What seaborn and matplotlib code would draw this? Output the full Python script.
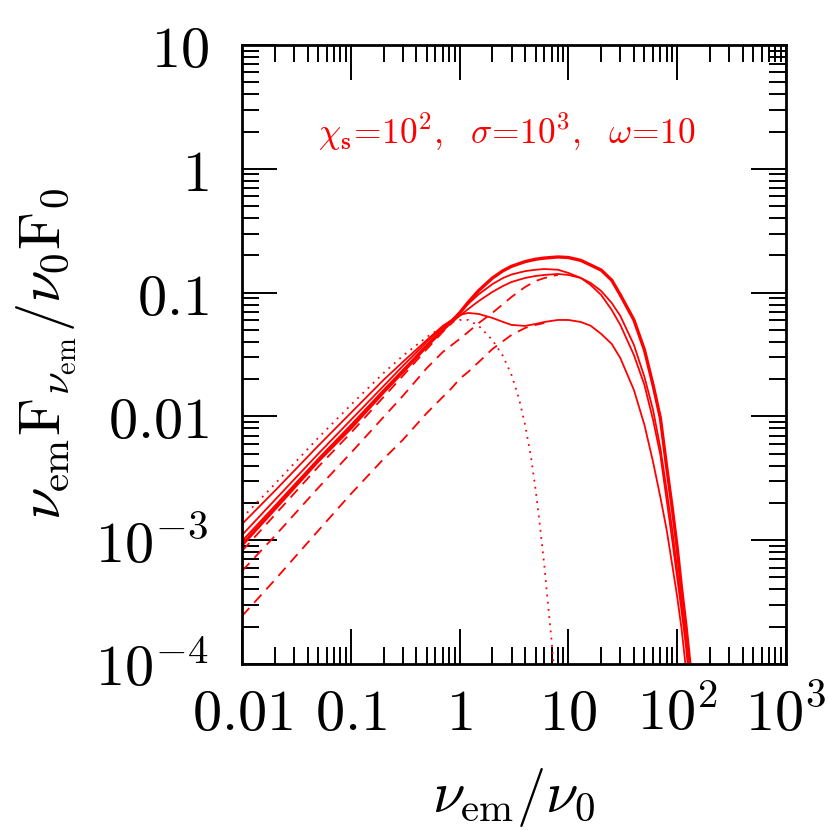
import numpy as np
import pandas as pd
import matplotlib
matplotlib.use('Agg')
import matplotlib.pyplot as plt
import seaborn as sns
from matplotlib.ticker import LogLocator, NullFormatter

# values
x_solid = [0.01, 0.02, 0.05, 0.1, 0.2, 0.3, 0.5, 0.7, 0.85, 1.0, 1.2, 1.5, 2, 2.5, 3, 4, 5, 6, 8,
           10, 13, 16, 20, 25, 30, 40, 50, 60, 70, 80, 90, 100, 110, 120, 130, 140]
solid_thick = [9.15e-4, 1.79e-3, 4.36e-3, 8.06e-3, 0.01575, 0.02285, 0.0371, 0.0499, 0.0590,
               0.0685, 0.0835, 0.104, 0.131, 0.150, 0.163, 0.178, 0.186, 0.190, 0.194, 0.192,
               0.182, 0.167, 0.152, 0.126, 0.0957, 0.0601, 0.0344, 0.0179, 9.71e-3, 3.90e-3,
               1.82e-3, 8.65e-4, 3.96e-4, 2.07e-4, 1.05e-4, 5.0e-5]
solid_b = [1.10e-3, 2.11e-3, 4.97e-3, 9.35e-3, 0.0176, 0.0255, 0.0399, 0.0528, 0.0601, 0.0685,
           0.081, 0.097, 0.117, 0.131, 0.140, 0.149, 0.153, 0.155, 0.153, 0.1441, 0.1313,
           0.1152, 0.0957, 0.0724, 0.0548, 0.0313, 0.0179, 9.35e-3, 4.88e-3, 2.11e-3, 1.0e-3,
           4.95e-4, 2.63e-4, 1.42e-4, 7.0e-5, 3.0e-5]
solid_c = [9.85e-4, 1.89e-3, 4.53e-3, 8.52e-3, 0.01634, 0.0237, 0.0378, 0.0499, 0.0579, 0.0648,
           0.0737, 0.0855, 0.1012, 0.113, 0.1218, 0.1313, 0.1362, 0.1388, 0.1414, 0.1388,
           0.1313, 0.1196, 0.1031, 0.0825, 0.0648, 0.0378, 0.0208, 0.01126, 5.56e-3, 2.54e-3,
           1.21e-3, 5.74e-4, 3.0e-4, 1.56e-4, 8.5e-5, 4.0e-5]
solid_dip = [1.35e-3, 2.50e-3, 5.77e-3, 0.01066, 0.0197, 0.0275, 0.0414, 0.0538, 0.0601, 0.0659,
             0.0685, 0.0672, 0.0624, 0.0580, 0.0548, 0.0538, 0.0558, 0.0579, 0.0601, 0.0601,
             0.0579, 0.0540, 0.0464, 0.0385, 0.0296, 0.01634, 8.52e-3, 4.28e-3, 2.23e-3,
             1.21e-3, 6.30e-4, 3.48e-4, 1.88e-4, 9.3e-5, 4.5e-5, 2.0e-5]

x_dash1 = [0.01, 0.02, 0.05, 0.1, 0.2, 0.3, 0.5, 0.7, 0.85, 1.0, 1.2]
dash1 = [8.18e-4, 1.60e-3, 3.90e-3, 7.35e-3, 0.01435, 0.0212, 0.0350, 0.0481, 0.0568, 0.0672, 0.0825]

x_dash2 = [0.01, 0.02, 0.05, 0.1, 0.2, 0.3, 0.5, 0.7, 0.85, 1.0, 1.2, 1.5, 2, 3, 4, 5, 6, 8]
dash2 = [5.64e-4, 1.08e-3, 2.64e-3, 5.06e-3, 9.89e-3, 0.0146, 0.0246, 0.0331, 0.0378, 0.0422,
         0.0481, 0.0568, 0.0685, 0.0922, 0.111, 0.124, 0.131, 0.139]

x_dash3 = [0.01, 0.02, 0.05, 0.1, 0.2, 0.3, 0.5, 0.7, 0.85, 1.0, 1.2, 1.5, 2, 3, 4, 5, 6]
dash3 = [2.44e-4, 4.77e-4, 1.19e-3, 2.36e-3, 4.53e-3, 6.45e-3, 0.01066, 0.01435, 0.0170, 0.0201,
         0.0229, 0.0275, 0.0350, 0.0455, 0.0518, 0.0548, 0.0568]

x_dot = [0.01, 0.02, 0.05, 0.1, 0.2, 0.3, 0.5, 0.7, 0.85, 1.0, 1.2, 1.5, 2, 2.5, 3, 3.5, 4,
         4.5, 5, 5.5, 6, 6.5, 7, 7.5]
dotted = [1.51e-3, 2.84e-3, 6.69e-3, 0.01237, 0.0224, 0.0308, 0.0438, 0.0528, 0.0579, 0.0601,
          0.0601, 0.0538, 0.0414, 0.0308, 0.0216, 0.0141, 8.52e-3, 4.88e-3, 2.54e-3, 1.26e-3,
          6.3e-4, 3.0e-4, 1.56e-4, 7.4e-5]

x_ticks = [0.01, 0.1, 1, 10, 100, 1000]
x_ticklabels = [r'$0.01$', r'$0.1$', r'$1$', r'$10$', r'$10^2$', r'$10^3$']
y_ticks = [1e-4, 1e-3, 0.01, 0.1, 1, 10]
y_ticklabels = [r'$10^{-4}$', r'$10^{-3}$', r'$0.01$', r'$0.1$', r'$1$', r'$10$']

curves = [
    (x_solid, solid_thick, 2.4, '-'),
    (x_solid, solid_b, 1.3, '-'),
    (x_solid, solid_c, 1.3, '-'),
    (x_solid, solid_dip, 1.3, '-'),
    (x_dash1, dash1, 1.3, (0, (6, 4))),
    (x_dash2, dash2, 1.3, (0, (6, 4))),
    (x_dash3, dash3, 1.3, (0, (6, 4))),
    (x_dot, dotted, 1.3, (0, (1, 3))),
]

sns.set_theme(style='ticks')
plt.rcParams['mathtext.fontset'] = 'cm'
plt.rcParams['font.family'] = ['DejaVu Serif']
plt.rcParams['text.color'] = 'black'
plt.rcParams['axes.labelcolor'] = 'black'
plt.rcParams['xtick.labelcolor'] = 'black'
plt.rcParams['ytick.labelcolor'] = 'black'

fig = plt.figure(figsize=(8.3, 8.3), dpi=100)
ax = fig.add_axes([0.2916, 0.2, 0.6554, 0.7458])

for xs, ys, lw, ls in curves:
    df = pd.DataFrame({'x': xs, 'y': ys})
    sns.lineplot(data=df, x='x', y='y', ax=ax, color='red', lw=lw, linestyle=ls,
                 estimator=None, sort=False)

ax.set(xscale='log', yscale='log')
ax.set_xlim(0.01, 1000)
ax.set_ylim(1e-4, 10)

ax.set_xticks(x_ticks)
ax.set_xticklabels(x_ticklabels)
ax.set_yticks(y_ticks)
ax.set_yticklabels(y_ticklabels)
for axis in (ax.xaxis, ax.yaxis):
    axis.set_minor_locator(LogLocator(base=10, subs=np.arange(2, 10) * 1.0, numticks=100))
    axis.set_minor_formatter(NullFormatter())

ax.tick_params(which='major', direction='in', length=25, width=1.4, top=True, right=True,
               labelsize=42, color='black', labelcolor='black')
ax.tick_params(which='minor', direction='in', length=12.5, width=1.4, top=True, right=True,
               color='black')
ax.tick_params(axis='x', pad=16)
ax.tick_params(axis='y', pad=24)
for sp in ax.spines.values():
    sp.set_linewidth(2)
    sp.set_color('black')

ax.set_xlabel(r'$\nu_{\rm em}/\nu_0$', fontsize=42, color='black')
ax.set_ylabel(r'$\nu_{\rm em}{\rm F}_{\nu_{\rm em}}/\nu_0{\rm F}_0$', fontsize=42, color='black')
ax.xaxis.set_label_coords(0.5, -0.165)
ax.yaxis.set_label_coords(-0.30, 0.5)

ax.text(0.14, 0.86, r'$\chi_{\mathbf{s}}\!=\!10^2,\ \ \sigma\!=\!10^3,\ \ \omega\!=\!10$',
        transform=ax.transAxes, color='red', fontsize=25.5, ha='left', va='center')

fig.savefig('out.png', dpi=100)
